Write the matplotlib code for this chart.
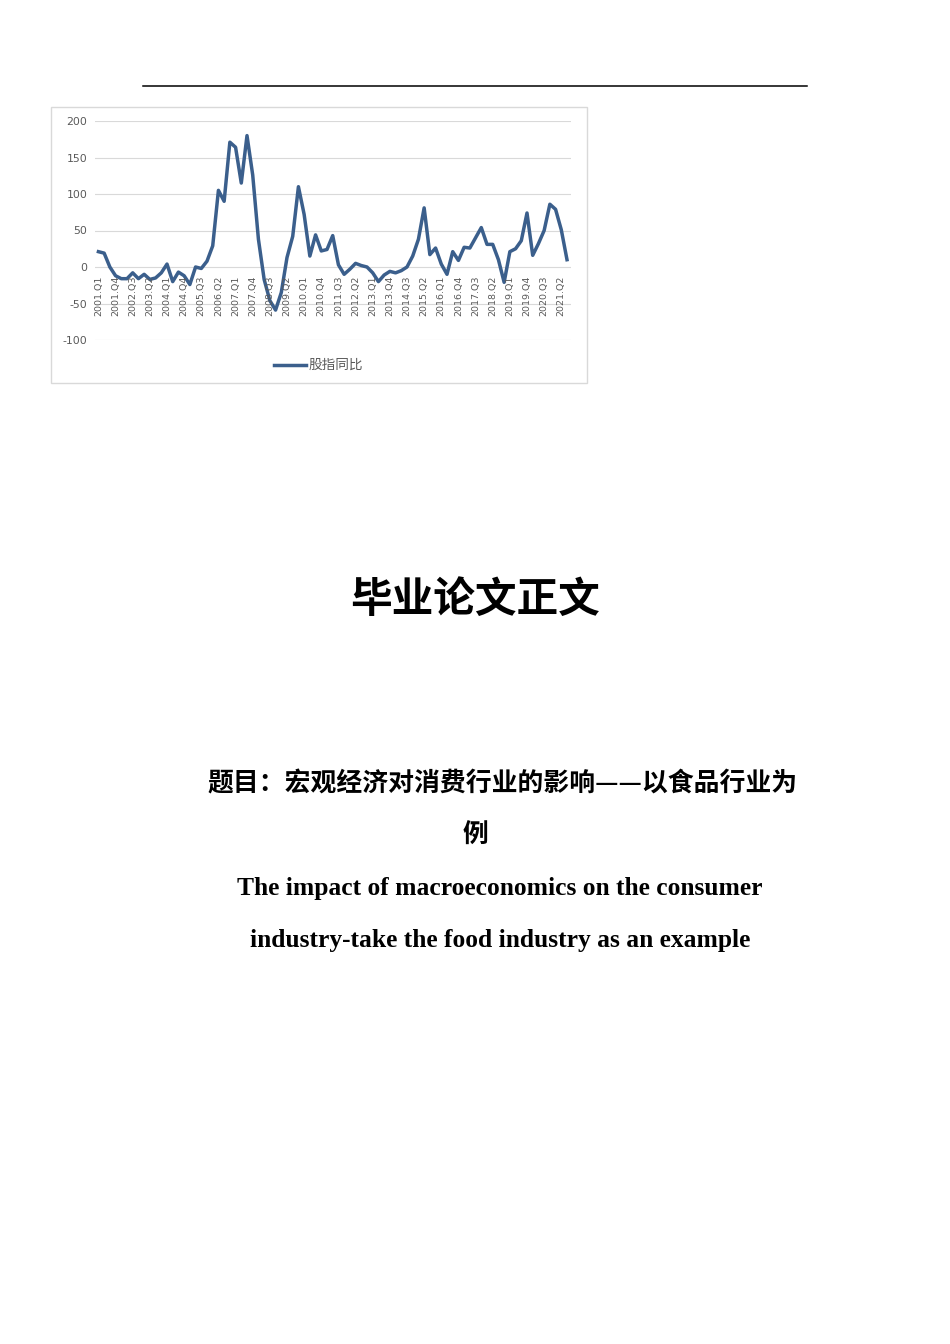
import numpy as np
import matplotlib
matplotlib.use('Agg')
import matplotlib.pyplot as plt
import matplotlib.patches as patches
from matplotlib.transforms import offset_copy

plt.rcParams['font.family'] = ['Noto Sans CJK SC', 'DejaVu Sans']

# quarters 2001.Q1 .. 2021.Q3
quarters = ['%d.Q%d' % (y, q) for y in range(2001, 2022) for q in range(1, 5)][:83]

# 股指同比
yoy = [21, 19, 0, -12, -16, -16, -8, -16, -10, -17,
       -15, -8, 4, -20, -7, -12, -24, 0, -2, 8,
       29, 105, 90, 171, 164, 115, 180, 126, 38, -17,
       -46, -59, -35, 13, 42, 110, 72, 15, 44, 22,
       24, 43, 3, -10, -3, 5, 2, 0, -8, -20,
       -11, -6, -8, -5, 0, 15, 38, 81, 17, 26,
       4, -10, 21, 9, 27, 26, 40, 54, 31, 31,
       10, -21, 21, 25, 36, 74, 16, 32, 50, 86,
       79, 51, 10]

yticks = [-100, -50, 0, 50, 100, 150, 200]

W, H = 950, 1344
fig = plt.figure(figsize=(W / 100, H / 100), dpi=100)
fig.patch.set_facecolor('white')

def fx(px):
    return px / W

def fy(py):
    return 1 - py / H

# top rule
fig.add_artist(plt.Line2D([fx(143), fx(807)], [fy(86), fy(86)], color='black', lw=1.1))

# chart frame
fig.add_artist(patches.Rectangle((fx(51), fy(383)), fx(587) - fx(51), fy(107) - fy(383),
                                 transform=fig.transFigure, fill=False,
                                 edgecolor='#d9d9d9', lw=1))

ax = fig.add_axes([fx(95), fy(340), fx(571) - fx(95), fy(121) - fy(340)])
x = np.arange(len(yoy))
ax.plot(x, yoy, color='#3b5f8c', lw=2.5, solid_joinstyle='round')
ax.set_ylim(-100, 200)
ax.set_xlim(-0.6, len(yoy) - 0.3)
ax.set_yticks(yticks)
ax.set_yticklabels([str(v) for v in yticks], color='#595959', fontsize=7.8,
                   family=['DejaVu Sans'])
ax.tick_params(axis='y', length=0, pad=5.5)
ax.set_xticks([])
for v in yticks:
    ax.axhline(v, color='#d9d9d9', lw=0.8, zorder=0)
for s in ax.spines.values():
    s.set_visible(False)

# category labels sitting under the zero line
lab_tr = offset_copy(ax.transData, fig=fig, x=0, y=-6, units='points')
for i in range(0, len(quarters), 3):
    ax.text(i, 0, quarters[i], rotation=90, ha='center', va='top',
            fontsize=6.8, color='#595959', family=['DejaVu Sans'],
            transform=lab_tr, clip_on=False)

# legend
fig.add_artist(plt.Line2D([fx(274), fx(306)], [fy(365), fy(365)], color='#3b5f8c', lw=2.5))
fig.text(fx(309), fy(365), '股指同比', fontsize=9.8, color='#595959', ha='left', va='center')

# titles
fig.text(0.5, fy(600), '毕业论文正文', fontsize=30, fontweight='bold',
         ha='center', va='center', color='black')
fig.text(fx(207), fy(784), '题目：宏观经济对消费行业的影响——以食品行业为', fontsize=18.6,
         fontweight='bold', ha='left', va='center', color='black')
fig.text(0.5, fy(835), '例', fontsize=18.6, fontweight='bold',
         ha='center', va='center', color='black')
fig.text(fx(500), fy(888), 'The impact of macroeconomics on the consumer', fontsize=18.4,
         fontweight='bold', ha='center', va='center', family=['Liberation Serif'])
fig.text(fx(500), fy(940), 'industry-take the food industry as an example', fontsize=18.4,
         fontweight='bold', ha='center', va='center', family=['Liberation Serif'])

fig.savefig('out.png', dpi=100, facecolor='white')
